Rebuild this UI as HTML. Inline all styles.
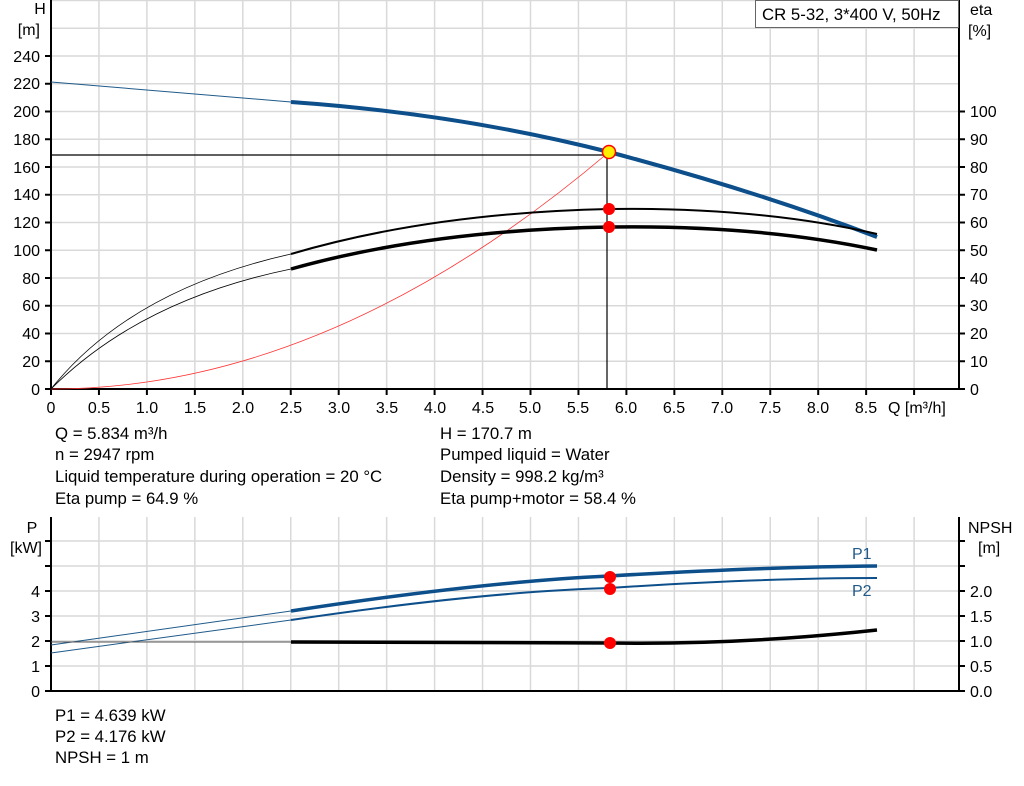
<!DOCTYPE html>
<html><head><meta charset="utf-8"><style>
body{margin:0;background:#fff;}
svg text{font-family:"Liberation Sans",Arial,sans-serif;font-size:16px;fill:#000;}
svg text.b{font-size:16.8px;}
</style></head><body>
<svg width="1024" height="781" viewBox="0 0 1024 781" xmlns="http://www.w3.org/2000/svg">
<g id="grid" stroke="#d9d9d9" stroke-width="1.5"></g>
<g stroke="#000" stroke-width="2" fill="none">
<line x1="51" y1="0" x2="51" y2="390"/>
<line x1="959" y1="0" x2="959" y2="390"/>
<line x1="50" y1="389" x2="960" y2="389"/>
<line x1="51" y1="517" x2="51" y2="692"/>
<line x1="959" y1="517" x2="959" y2="692"/>
<line x1="50" y1="691" x2="960" y2="691"/>
</g>
<g id="ticks" stroke="#000" stroke-width="2"></g>
<rect x="755.5" y="0.5" width="203" height="27" fill="#fff" stroke="#666"/>
<text class="b" x="762" y="20">CR 5-32, 3*400 V, 50Hz</text>
<g text-anchor="end">
<text x="40" y="14" text-anchor="middle">H</text>
<text x="40" y="35">[m]</text>
<text x="40" y="62">240</text><text x="40" y="89">220</text><text x="40" y="117">200</text>
<text x="40" y="145">180</text><text x="40" y="173">160</text><text x="40" y="200">140</text>
<text x="40" y="228">120</text><text x="40" y="256">100</text><text x="40" y="284">80</text>
<text x="40" y="311">60</text><text x="40" y="339">40</text><text x="40" y="367">20</text>
<text x="40" y="395">0</text>
</g>
<g>
<text x="970" y="15">eta</text><text x="968" y="36">[%]</text>
<text x="970" y="117">100</text><text x="970" y="145">90</text><text x="970" y="173">80</text>
<text x="970" y="200">70</text><text x="970" y="228">60</text><text x="970" y="256">50</text>
<text x="970" y="284">40</text><text x="970" y="311">30</text><text x="970" y="339">20</text>
<text x="970" y="367">10</text><text x="970" y="395">0</text>
</g>
<g text-anchor="middle">
<text x="51" y="413">0</text><text x="99" y="413">0.5</text><text x="147" y="413">1.0</text>
<text x="195" y="413">1.5</text><text x="243" y="413">2.0</text><text x="291" y="413">2.5</text>
<text x="339" y="413">3.0</text><text x="387" y="413">3.5</text><text x="435" y="413">4.0</text>
<text x="483" y="413">4.5</text><text x="530" y="413">5.0</text><text x="578" y="413">5.5</text>
<text x="626" y="413">6.0</text><text x="674" y="413">6.5</text><text x="722" y="413">7.0</text>
<text x="770" y="413">7.5</text><text x="818" y="413">8.0</text><text x="866" y="413">8.5</text>
</g>
<text x="888" y="413">Q [m³/h]</text>
<text class="b" x="55" y="439">Q = 5.834 m³/h</text>
<text class="b" x="55" y="460">n = 2947 rpm</text>
<text class="b" x="55" y="482">Liquid temperature during operation = 20 °C</text>
<text class="b" x="55" y="504">Eta pump = 64.9 %</text>
<text class="b" x="440" y="439">H = 170.7 m</text>
<text class="b" x="440" y="460">Pumped liquid = Water</text>
<text class="b" x="440" y="482">Density = 998.2 kg/m³</text>
<text class="b" x="440" y="504">Eta pump+motor = 58.4 %</text>
<g text-anchor="end">
<text x="32" y="533" text-anchor="middle">P</text>
<text x="42" y="553">[kW]</text>
<text x="40" y="597">4</text><text x="40" y="622">3</text><text x="40" y="647">2</text>
<text x="40" y="672">1</text><text x="40" y="697">0</text>
</g>
<g>
<text x="968" y="533">NPSH</text><text x="978" y="553">[m]</text>
<text x="970" y="597">2.0</text><text x="970" y="622">1.5</text><text x="970" y="647">1.0</text>
<text x="970" y="672">0.5</text><text x="970" y="697">0.0</text>
</g>
<text class="b" x="55" y="721">P1 = 4.639 kW</text>
<text class="b" x="55" y="742">P2 = 4.176 kW</text>
<text class="b" x="55" y="763">NPSH = 1 m</text>
<g fill="none">
<path d="M51,389 Q330,389 609,152" stroke="#ff3030" stroke-width="0.8"/>
<line x1="51" y1="155" x2="609" y2="155" stroke="#000" stroke-width="1.2"/>
<line x1="607" y1="155" x2="607" y2="389" stroke="#000" stroke-width="1.2"/>
<line x1="51" y1="82" x2="291" y2="102" stroke="#1f5a8a" stroke-width="1"/>
<path d="M291,102 Q460,114 609,152 Q760,192 877,237" stroke="#0d4f8b" stroke-width="4"/>
<path d="M51,389 Q130,290 291,254" stroke="#000" stroke-width="0.8"/>
<path d="M51,389 Q140,300 291,269" stroke="#000" stroke-width="0.8"/>
<path d="M291,254 Q430,213 609,209 Q760,207 877,234" stroke="#000" stroke-width="2"/>
<path d="M291,269 Q430,230 609,227 Q760,225 877,250" stroke="#000" stroke-width="3.5"/>
</g>
<circle cx="609" cy="209" r="6" fill="#f00"/>
<circle cx="609" cy="227" r="6" fill="#f00"/>
<circle cx="609" cy="152" r="6.5" fill="#ffee00" stroke="#f00" stroke-width="1.5"/>
<g fill="none">
<line x1="51" y1="645" x2="291" y2="611" stroke="#1f5a8a" stroke-width="1"/>
<line x1="51" y1="653" x2="291" y2="620" stroke="#1f5a8a" stroke-width="1"/>
<line x1="51" y1="642" x2="291" y2="642" stroke="#555" stroke-width="1"/>
<path d="M291,611 Q480,582 609,576 Q760,567 877,566" stroke="#0d4f8b" stroke-width="3.5"/>
<path d="M291,620 Q480,592 609,588 Q760,578 877,578" stroke="#0d4f8b" stroke-width="2"/>
<path d="M291,642 L609,643 Q740,645 877,630" stroke="#000" stroke-width="3.5"/>
</g>
<circle cx="610" cy="577" r="6" fill="#f00"/>
<circle cx="610" cy="589" r="6" fill="#f00"/>
<circle cx="610" cy="643" r="6" fill="#f00"/>
<text x="852" y="559" style="fill:#1f5a8a">P1</text>
<text x="852" y="596" style="fill:#1f5a8a">P2</text>
<script>
var g=document.getElementById('grid'),t=document.getElementById('ticks'),ns='http://www.w3.org/2000/svg';
function L(p,a,b,c,d){var l=document.createElementNS(ns,'line');l.setAttribute('x1',a);l.setAttribute('y1',b);l.setAttribute('x2',c);l.setAttribute('y2',d);p.appendChild(l);}
for(var k=1;k<=18;k++){var x=51+47.95*k;L(g,x,0,x,389);L(g,x,517,x,691);L(t,x,389,x,395);}
L(t,51,389,51,395);
for(var k=1;k<=14;k++){var y=389-27.75*k;L(g,51,y,959,y);if(k<=12)L(t,45,y,51,y);if(k<=10)L(t,959,y,965,y);}
L(t,45,389,51,389);L(t,959,389,965,389);
for(var k=1;k<=7;k++){var y=691-25*k;if(y<517)break;L(g,51,y,959,y);L(t,45,y,51,y);L(t,959,y,965,y);}
L(t,45,691,51,691);L(t,959,691,965,691);
</script>
</svg>
</body></html>
